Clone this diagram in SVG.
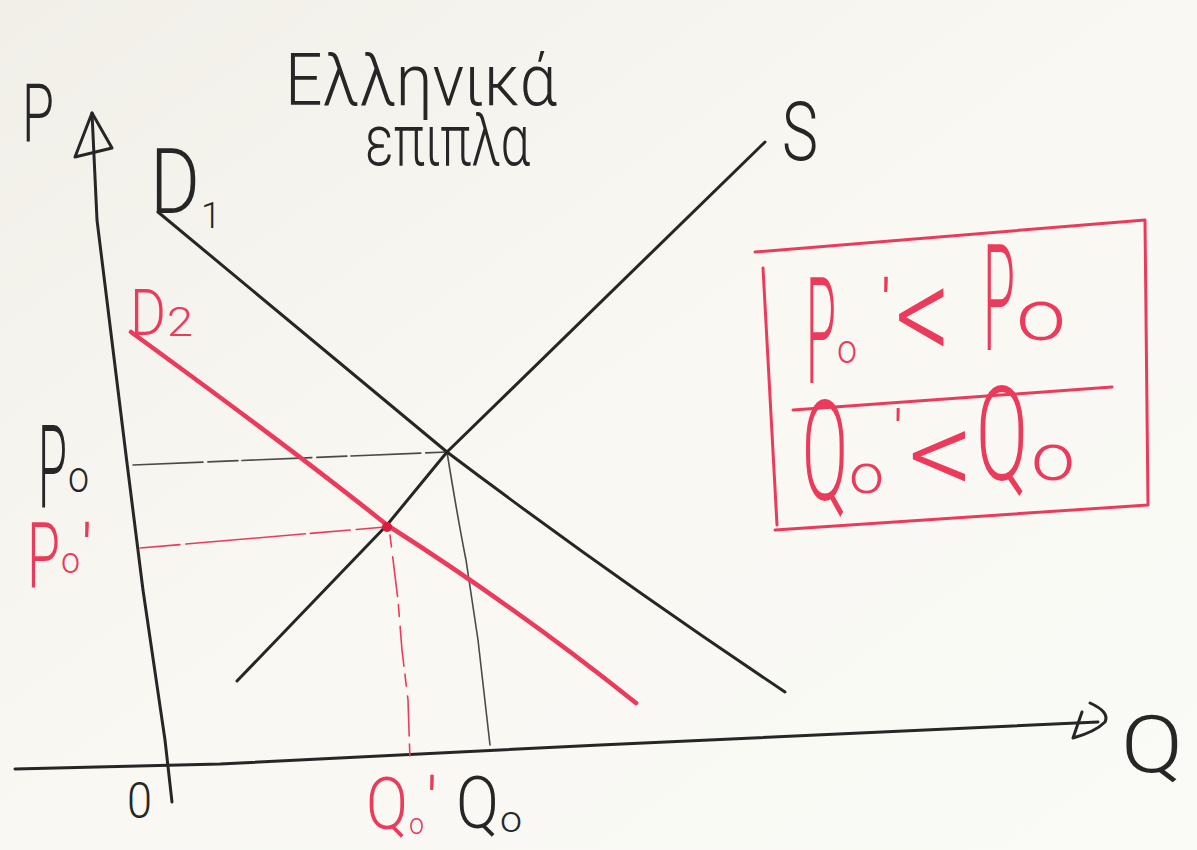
<svg xmlns="http://www.w3.org/2000/svg" width="1197" height="850" viewBox="0 0 1197 850">
<defs>
<linearGradient id="bg" x1="0" y1="0" x2="1" y2="1">
<stop offset="0" stop-color="#f1efe8"/>
<stop offset="0.5" stop-color="#f9f8f3"/>
<stop offset="1" stop-color="#fafaf6"/>
</linearGradient>
<style>
.ink{fill:none;stroke:#262626;stroke-width:3;stroke-linecap:round;stroke-linejoin:round}
.red{fill:none;stroke:#ec3a5a;stroke-linecap:round;stroke-linejoin:round}
.thin{fill:none;stroke:#4a4a4a;stroke-width:1.6;stroke-linecap:round}
text{font-family:Roboto,"Open Sans","DejaVu Sans",sans-serif;font-weight:300}
.k{fill:#262626}
.r{fill:#ec3a5a}
</style>
</defs>
<rect width="1197" height="850" fill="url(#bg)"/>

<g id="connectors">
<polyline class="ink" points="92,113 97,220 127,463 143,590 165,740 172,802"/>
<path class="ink" d="M92,113 L75,157 L112,148 Z"/>
<polyline class="ink" points="15,769 220,764 600,745 1098,722"/>
<path class="ink" d="M1090,703 Q1110,712 1105,722 Q1095,732 1073,738 L1082,712"/>
<path class="thin" d="M133,465 L447,452" stroke-dasharray="70 5 30 4"/>
<path class="thin" d="M447,452 Q458,520 466,560 L478,640 L490,745"/>
<path class="red" stroke-width="1.6" d="M140,548 L385,527" stroke-dasharray="40 6 120 5"/>
<path class="red" stroke-width="1.6" d="M390,535 L398,600 L402,650 L408,700 L410,760" stroke-dasharray="12 10 40 8"/>
<path id="curve-D1" class="ink" d="M158,212 Q300,330 447,452 Q610,575 785,692"/>
<path id="curve-S" class="ink" d="M237,681 L387,525 L447,452 L765,142"/>
<path id="curve-D2" class="red" stroke-width="4.5" d="M131,332 Q300,455 387,525 Q520,610 636,703"/>
<circle cx="387" cy="527" r="5" fill="#d81c3e"/>
<path class="red" stroke-width="3" d="M755,252 L1145,220 L1148,505 L775,530 M763,268 L777,525"/>
<path class="red" stroke-width="3" d="M793,410 L1112,387"/>
</g>

<g id="title">
<text class="k" x="285" y="105" font-size="72" textLength="272" lengthAdjust="spacingAndGlyphs">Ελληνικά</text>
<text class="k" x="365" y="165" font-size="72" textLength="165" lengthAdjust="spacingAndGlyphs">επιπλα</text>
</g>

<g id="axis-labels">
<text class="k" x="22" y="142" font-size="82" textLength="32" lengthAdjust="spacingAndGlyphs">P</text>
<text class="k" x="1121" y="772" font-size="80" textLength="62" lengthAdjust="spacingAndGlyphs">Q</text>
<text class="k" x="127" y="818" font-size="50" textLength="25" lengthAdjust="spacingAndGlyphs">0</text>
</g>

<g id="label-D1">
<text class="k" x="150" y="213" font-size="90" textLength="50" lengthAdjust="spacingAndGlyphs">D</text>
<text class="k" x="201" y="228" font-size="36">1</text>
</g>
<g id="label-D2">
<text class="r" x="130" y="335" font-size="64" textLength="36" lengthAdjust="spacingAndGlyphs">D</text>
<text class="r" x="167" y="336" font-size="40" textLength="26" lengthAdjust="spacingAndGlyphs">2</text>
</g>
<g id="label-S">
<text class="k" x="782" y="160" font-size="82" textLength="36" lengthAdjust="spacingAndGlyphs">S</text>
</g>

<g id="label-P0">
<text class="k" x="38" y="507" font-size="115" textLength="29" lengthAdjust="spacingAndGlyphs">P</text>
<text class="k" x="68" y="492" font-size="44" textLength="21" lengthAdjust="spacingAndGlyphs">o</text>
</g>
<g id="label-P0p">
<text class="r" x="27" y="587" font-size="90" textLength="33" lengthAdjust="spacingAndGlyphs">P</text>
<text class="r" x="61" y="573" font-size="36" textLength="19" lengthAdjust="spacingAndGlyphs">o</text>
<text class="r" x="81" y="575" font-size="70">'</text>
</g>
<g id="label-Q0p">
<text class="r" x="366" y="829" font-size="72" textLength="42" lengthAdjust="spacingAndGlyphs">Q</text>
<text class="r" x="409" y="834" font-size="30" textLength="15" lengthAdjust="spacingAndGlyphs">o</text>
<text class="r" x="426" y="828" font-size="70">'</text>
</g>
<g id="label-Q0">
<text class="k" x="456" y="828" font-size="72" textLength="43" lengthAdjust="spacingAndGlyphs">Q</text>
<text class="k" x="500" y="832" font-size="36" textLength="22" lengthAdjust="spacingAndGlyphs">o</text>
</g>

<g id="box-top">
<text class="r" x="806" y="383" font-size="148" textLength="30" lengthAdjust="spacingAndGlyphs">P</text>
<text class="r" x="837" y="363" font-size="40" textLength="20" lengthAdjust="spacingAndGlyphs">o</text>
<text class="r" x="880" y="330" font-size="70">'</text>
<text class="r" x="895" y="362" font-size="140" textLength="56" lengthAdjust="spacingAndGlyphs">&lt;</text>
<text class="r" x="983" y="350" font-size="148" textLength="32" lengthAdjust="spacingAndGlyphs">P</text>
<text class="r" x="1016" y="340" font-size="72" textLength="50" lengthAdjust="spacingAndGlyphs">o</text>
</g>
<g id="box-bottom">
<text class="r" x="802" y="500" font-size="140" textLength="46" lengthAdjust="spacingAndGlyphs">Q</text>
<text class="r" x="849" y="493" font-size="56" textLength="35" lengthAdjust="spacingAndGlyphs">o</text>
<text class="r" x="893" y="453" font-size="60">'</text>
<text class="r" x="908" y="495" font-size="120" textLength="66" lengthAdjust="spacingAndGlyphs">&lt;</text>
<text class="r" x="976" y="480" font-size="132" textLength="52" lengthAdjust="spacingAndGlyphs">Q</text>
<text class="r" x="1031" y="480" font-size="66" textLength="44" lengthAdjust="spacingAndGlyphs">o</text>
</g>
</svg>
